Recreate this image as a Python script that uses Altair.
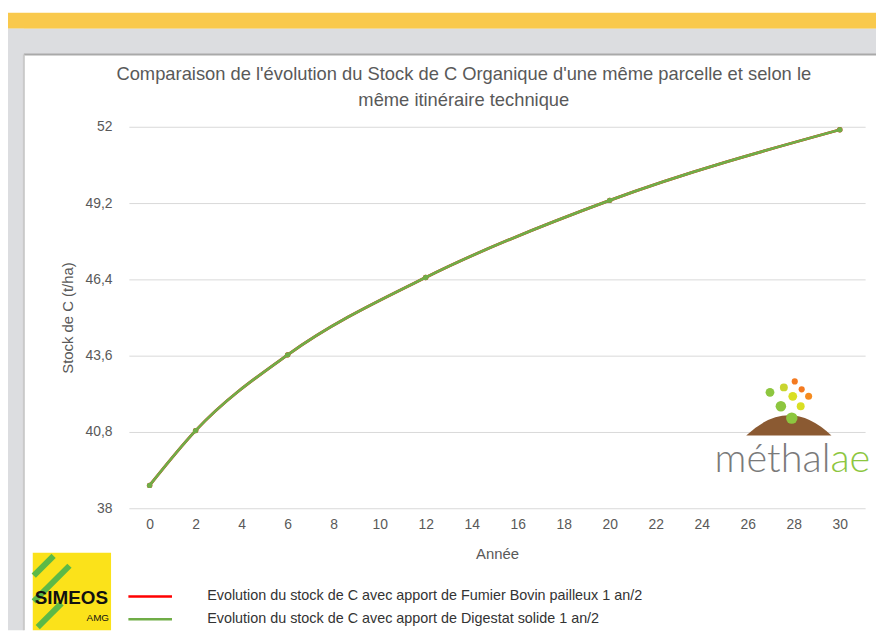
import altair as alt
import pandas as pd

# ---------------- data ----------------
years = [0, 2, 6, 12, 20, 30]
stock_fumier = [38.84, 40.85, 43.63, 46.47, 49.30, 51.89]
stock_digestat = [38.84, 40.85, 43.63, 46.47, 49.30, 51.89]
series_names = [
    "Evolution du stock de C avec apport de Fumier Bovin pailleux 1 an/2",
    "Evolution du stock de C avec apport de Digestat solide 1 an/2",
]
series_colors = ["#ff0000", "#70ad47"]
y_ticks = [38, 40.8, 43.6, 46.4, 49.2, 52]
x_ticks = list(range(0, 31, 2))
title_lines = [
    "Comparaison de l'évolution du Stock de C Organique d'une même parcelle et selon le",
    "même itinéraire technique",
]

# ---------------- layout ----------------
W, H = 743, 385
PAD = {"left": 122, "top": 117, "right": 11, "bottom": 123}
OX, OY = 8 + PAD["left"], 8 + PAD["top"]


def vx(px):
    return px - OX


def vy(py):
    return py - OY


FONT = "Liberation Sans"
GREY_TXT = "#595959"

df = pd.DataFrame({
    "Année": years + years,
    "Stock": stock_fumier + stock_digestat,
    "Série": [series_names[0]] * len(years) + [series_names[1]] * len(years),
})

X = alt.X("Année:Q",
          scale=alt.Scale(domain=[-0.9, 31.1], nice=False, zero=False),
          axis=alt.Axis(values=x_ticks, grid=False, domain=False, ticks=False,
                        labelPadding=9, labelFont=FONT, labelFontSize=14,
                        labelColor=GREY_TXT, title="Année", titleFont=FONT,
                        titleFontSize=15, titleFontWeight="normal",
                        titleColor=GREY_TXT, titlePadding=16))
Y = alt.Y("Stock:Q",
          scale=alt.Scale(domain=[38, 52], nice=False, zero=False),
          axis=alt.Axis(values=y_ticks, format=".1~f",
                        labelExpr="replace(datum.label, '.', ',')",
                        grid=True, gridColor="#d9d9d9", gridWidth=1,
                        domain=False, ticks=False, labelPadding=17,
                        labelFont=FONT, labelFontSize=14, labelColor=GREY_TXT,
                        title="Stock de C (t/ha)", titleFont=FONT,
                        titleFontSize=15, titleFontWeight="normal",
                        titleColor=GREY_TXT, titlePadding=10))
COLOR = alt.Color("Série:N",
                  scale=alt.Scale(domain=series_names, range=series_colors),
                  legend=alt.Legend(title=None, orient="none",
                                    legendX=vx(128), legendY=vy(599) - 11.5,
                                    symbolType="stroke", symbolSize=1936,
                                    symbolStrokeWidth=2.5, labelOffset=34,
                                    labelFont=FONT, labelFontSize=14.5,
                                    labelColor="#333333", labelLimit=700,
                                    clipHeight=23, rowPadding=0, padding=0))

base = alt.Chart(df)
layers = []
for name in series_names:
    sub = base.transform_filter(alt.datum["Série"] == name)
    layers.append(sub.mark_line(interpolate="monotone", strokeWidth=2.8)
                  .encode(x=X, y=Y, color=COLOR))
    layers.append(sub.mark_circle(size=30, opacity=1)
                  .encode(x=X, y=Y, color=COLOR))

# ---------------- title (two centred lines) ----------------
title_df = pd.DataFrame({
    "t": title_lines,
    "x": [468 - OX, 468 - OX],
    "y": [72 - OY, 98 - OY],
})
title_layer = alt.Chart(title_df).mark_text(
    font=FONT, fontSize=18.5, color=GREY_TXT, align="center", baseline="middle"
).encode(x=alt.X("x:Q", scale=None, axis=None),
         y=alt.Y("y:Q", scale=None, axis=None), text="t:N")

# ---------------- decorations (page frame & logos) ----------------
frame = pd.DataFrame([
    {"x1": 8, "x2": 884, "y1": 10, "y2": 26, "c": "#f9c94c"},
    {"x1": 8, "x2": 884, "y1": 26, "y2": 52, "c": "#dcdde0"},
    {"x1": 8, "x2": 24, "y1": 26, "y2": 633, "c": "#dcdde0"},
    {"x1": 24, "x2": 884, "y1": 51, "y2": 53, "c": "#a9a9a9"},
    {"x1": 23, "x2": 25, "y1": 52, "y2": 633, "c": "#c9c9c9"},
    {"x1": 33, "x2": 112, "y1": 555, "y2": 633, "c": "#fbe21a"},
])
for k in ("x1", "x2"):
    frame[k] = frame[k] - OX
for k in ("y1", "y2"):
    frame[k] = frame[k] - OY

frame_layer = alt.Chart(frame).mark_rect().encode(
    x=alt.X("x1:Q", scale=None, axis=None), x2="x2:Q",
    y=alt.Y("y1:Q", scale=None, axis=None), y2="y2:Q",
    fill=alt.Fill("c:N", scale=None, legend=None))

stripes = pd.DataFrame([
    {"x1": 34, "y1": 578, "x2": 54, "y2": 558},
    {"x1": 34, "y1": 604, "x2": 70, "y2": 568},
    {"x1": 38, "y1": 630, "x2": 62, "y2": 606},
])
stripes["x1"] -= OX
stripes["x2"] -= OX
stripes["y1"] -= OY
stripes["y2"] -= OY
stripe_layer = alt.Chart(stripes).mark_rule(strokeWidth=6, color="#5cb947").encode(
    x=alt.X("x1:Q", scale=None, axis=None), x2="x2:Q",
    y=alt.Y("y1:Q", scale=None, axis=None), y2="y2:Q")

simeos = pd.DataFrame([{"x": 72 - OX, "y": 607 - OY, "t": "SIMEOS"}])
simeos_txt = alt.Chart(simeos).mark_text(font=FONT, fontWeight="bold",
                                         fontSize=19, color="#111111",
                                         align="center",
                                         baseline="alphabetic").encode(
    x=alt.X("x:Q", scale=None, axis=None), y=alt.Y("y:Q", scale=None, axis=None),
    text="t:N")
amg = pd.DataFrame([{"x": 110 - OX, "y": 624 - OY, "t": "AMG"}])
amg_txt = alt.Chart(amg).mark_text(font=FONT, fontSize=10,
                                   color="#111111", align="right",
                                   baseline="alphabetic").encode(
    x=alt.X("x:Q", scale=None, axis=None), y=alt.Y("y:Q", scale=None, axis=None),
    text="t:N")

# méthalae logo
dots = pd.DataFrame([
    {"x": 777, "y": 393, "r": 5.0, "c": "#8dc63f"},
    {"x": 791, "y": 388, "r": 4.5, "c": "#c9d52f"},
    {"x": 802, "y": 382, "r": 3.5, "c": "#f47a20"},
    {"x": 809, "y": 390, "r": 3.5, "c": "#f47a20"},
    {"x": 800, "y": 397, "r": 5.0, "c": "#d9df24"},
    {"x": 816, "y": 397, "r": 4.0, "c": "#f58b1f"},
    {"x": 788, "y": 407, "r": 6.0, "c": "#8dc63f"},
    {"x": 808, "y": 407, "r": 4.5, "c": "#d9df24"},
    {"x": 799, "y": 419, "r": 6.5, "c": "#8dc63f"},
])
dots["x"] -= OX
dots["y"] -= OY
dots["size"] = 3.1416 * dots["r"] ** 2
dots_layer = alt.Chart(dots).mark_circle(opacity=1).encode(
    x=alt.X("x:Q", scale=None, axis=None), y=alt.Y("y:Q", scale=None, axis=None),
    size=alt.Size("size:Q", scale=None, legend=None),
    fill=alt.Fill("c:N", scale=None, legend=None))

mound = pd.DataFrame([{"x": 796 - OX, "y": 428 - OY}])
mound_layer = alt.Chart(mound).mark_point(
    shape="M-1,0.2 Q0,-0.75 1,0.2 Z", filled=True, size=7400,
    color="#8b5a32", opacity=1).encode(
    x=alt.X("x:Q", scale=None, axis=None), y=alt.Y("y:Q", scale=None, axis=None))

logo_txt = pd.DataFrame([{"x": 838 - OX, "y": 473 - OY, "t": "méthal"}])
logo_a = alt.Chart(logo_txt).mark_text(font="Lato", fontSize=40, fontWeight=300,
                                       color="#7a7a7a", align="right",
                                       baseline="alphabetic").encode(
    x=alt.X("x:Q", scale=None, axis=None), y=alt.Y("y:Q", scale=None, axis=None),
    text="t:N")
logo_ae = pd.DataFrame([{"x": 838 - OX, "y": 473 - OY, "t": "ae"}])
logo_b = alt.Chart(logo_ae).mark_text(font="Lato", fontSize=40, fontWeight=300,
                                      color="#8dc63f", align="left",
                                      baseline="alphabetic").encode(
    x=alt.X("x:Q", scale=None, axis=None), y=alt.Y("y:Q", scale=None, axis=None),
    text="t:N")

chart = alt.layer(
    frame_layer, stripe_layer, simeos_txt, amg_txt, title_layer,
    mound_layer, dots_layer, logo_a, logo_b,
    *layers,
).properties(
    width=W, height=H,
    padding=PAD,
    autosize=alt.AutoSizeParams(type="none"),
    background="white",
).configure_view(stroke=None)

chart.save("out.html", embed_options={"renderer": "svg", "actions": False})
